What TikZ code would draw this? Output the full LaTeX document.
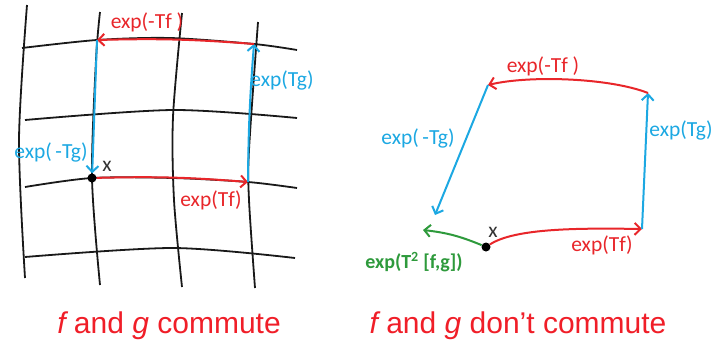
\documentclass[tikz,border=0pt]{standalone}
\usepackage{fontspec}
\setmainfont{Carlito}
\newfontfamily\capfont{Liberation Sans}
\usepackage{tikz}
\usetikzlibrary{arrows.meta}
\definecolor{flowred}{HTML}{E8262A}
\definecolor{flowblue}{HTML}{1CA8E2}
\definecolor{flowgreen}{HTML}{2E9A3C}
\definecolor{capred}{HTML}{F01E28}

\begin{document}
\begin{tikzpicture}[x=1pt,y=-1pt,
  grid/.style={black!90,line width=1.8pt},
  a/.style={line width=2pt,-{Straight Barb[length=6pt,width=12pt]}},
  lbl/.style={font=\fontsize{21.5}{25}\selectfont,inner sep=0pt},
  dot/.style={circle,fill=black,inner sep=0pt,minimum size=9pt},
  captxt/.style={font=\capfont\fontsize{30}{34}\selectfont,capred,anchor=base}]
\useasboundingbox (0,0) rectangle (715,343);
% curved grid (commuting flows)
\draw[grid] plot[smooth] coordinates {(27,5) (19,140) (25,278)};
\draw[grid] plot[smooth] coordinates {(100,12) (96,60) (92,178) (100,285)};
\draw[grid] plot[smooth] coordinates {(182,13) (173,117) (174,200) (182,287)};
\draw[grid] plot[smooth] coordinates {(258,22) (249,150) (249,200) (255,288)};
\draw[grid] plot[smooth] coordinates {(22,48) (97,40) (170,38) (254,44) (297,50)};
\draw[grid] plot[smooth] coordinates {(25,120) (173,110) (297,118)};
\draw[grid] plot[smooth] coordinates {(25,187) (92,178) (173,178) (248,182) (297,188)};
\draw[grid] plot[smooth] coordinates {(25,257) (173,248) (295,258)};
% left loop
\node[dot] (x1) at (92,178) {};
\coordinate (a2) at (248,182);
\coordinate (a3) at (254,44);
\coordinate (a4) at (97,40);
\draw[a,flowred] (x1) to[bend left=3] (a2);
\draw[a,flowblue] (a2) to[bend left=2] (a3);
\draw[a,flowred] (a3) to[bend right=3] (a4);
\draw[a,flowblue] (a4) -- (x1);
\node[lbl,flowred] (lf1) at (147,22) {exp(-Tf )};
\node[lbl,flowblue] (lg1) at (282,80) {exp(Tg)};
\node[lbl,flowblue] (lmg1) at (51,152) {exp(\,-Tg)};
\node[lbl,flowred] (lpf1) at (211,200) {exp(Tf)};
\node[lbl,black!80] (lx1) at (107,166) {x};
% right loop
\node[dot] (x2) at (486,247) {};
\coordinate (b2) at (642,229);
\coordinate (b3) at (648,93);
\coordinate (b4) at (488,85);
\coordinate (b5) at (435,215);
\coordinate (b6) at (423,230);
\draw[a,flowred] (x2) .. controls (515,228) and (580,228) .. (b2);
\draw[a,flowblue] (b2) -- (b3);
\draw[a,flowred] (b3) .. controls (610,78) and (530,75) .. (b4);
\draw[a,flowblue] (b4) -- (b5);
\draw[a,flowgreen] (x2) to[bend right=8] (b6);
\node[lbl,flowred] (lf2) at (543,66) {exp(-Tf )};
\node[lbl,flowblue] (lg2) at (681,130) {exp(Tg)};
\node[lbl,flowblue] (lmg2) at (418,138) {exp(\,-Tg)};
\node[lbl,flowred] (lpf2) at (602,245) {exp(Tf)};
\node[lbl,black!80] (lx2) at (493,232) {x};
\node[lbl,flowgreen,font=\bfseries\fontsize{20}{24}\selectfont] (lfg) at (414,262) {exp(T$^{\mathbf{2}}$ [f,g])};
% captions
\node[captxt] (c1) at (169,333) {\itshape f\upshape{} and \itshape g\upshape{} commute};
\node[captxt] (c2) at (518,333) {\itshape f\upshape{} and \itshape g\upshape{} don’t commute};
\end{tikzpicture}
\end{document}
